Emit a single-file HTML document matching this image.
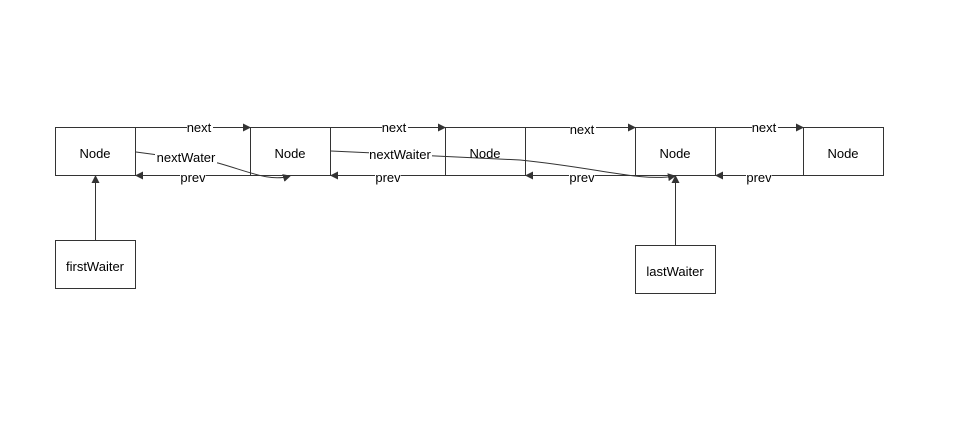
<!DOCTYPE html>
<html><head><style>body{margin:0;background:#fff}</style></head><body>
<svg width="971" height="434" xmlns="http://www.w3.org/2000/svg" font-family="Liberation Sans, sans-serif" font-size="13">
<defs><marker id="a" markerWidth="8" markerHeight="8" refX="7" refY="4" orient="auto" markerUnits="userSpaceOnUse"><path d="M0,0 L8,4 L0,8 z" fill="#333"/></marker></defs>
<g fill="#fff" stroke="#333" stroke-width="1">
<rect x="55.5" y="127.5" width="80" height="48"/>
<rect x="250.5" y="127.5" width="80" height="48"/>
<rect x="445.5" y="127.5" width="80" height="48"/>
<rect x="635.5" y="127.5" width="80" height="48"/>
<rect x="803.5" y="127.5" width="80" height="48"/>
<rect x="55.5" y="240.5" width="80" height="48"/>
<rect x="635.5" y="245.5" width="80" height="48"/>
</g>
<g stroke="#333" fill="none" marker-end="url(#a)">
<line x1="135.5" y1="127.5" x2="250" y2="127.5"/>
<line x1="330.5" y1="127.5" x2="445" y2="127.5"/>
<line x1="525.5" y1="127.5" x2="635" y2="127.5"/>
<line x1="715.5" y1="127.5" x2="803" y2="127.5"/>
<line x1="250.5" y1="175.5" x2="136" y2="175.5"/>
<line x1="445.5" y1="175.5" x2="331" y2="175.5"/>
<line x1="635.5" y1="175.5" x2="526" y2="175.5"/>
<line x1="803.5" y1="175.5" x2="716" y2="175.5"/>
<line x1="95.5" y1="240" x2="95.5" y2="176"/>
<line x1="675.5" y1="245" x2="675.5" y2="176"/>
<path d="M136,152 L218,163 C250,172 270,182 290,176"/>
<path d="M331,151 L520,160 C600,168 640,182 675,176"/>
</g>
<g fill="#000" text-anchor="middle">
<rect x="187" y="122" width="26" height="12" fill="#fff"/><text x="199" y="132">next</text>
<rect x="382" y="122" width="26" height="12" fill="#fff"/><text x="394" y="132">next</text>
<rect x="570" y="124" width="26" height="12" fill="#fff"/><text x="582" y="134">next</text>
<rect x="752" y="122" width="26" height="12" fill="#fff"/><text x="764" y="132">next</text>
<rect x="180" y="171" width="26" height="12" fill="#fff"/><text x="193" y="182">prev</text>
<rect x="375" y="171" width="26" height="12" fill="#fff"/><text x="388" y="182">prev</text>
<rect x="569" y="171" width="26" height="12" fill="#fff"/><text x="582" y="182">prev</text>
<rect x="746" y="171" width="26" height="12" fill="#fff"/><text x="759" y="182">prev</text>
<rect x="155" y="151" width="62" height="13" fill="#fff"/><text x="186" y="162">nextWater</text>
<rect x="369" y="148" width="63" height="13" fill="#fff"/><text x="400" y="159">nextWaiter</text>
<text x="95" y="158">Node</text>
<text x="290" y="158">Node</text>
<text x="485" y="158">Node</text>
<text x="675" y="158">Node</text>
<text x="843" y="158">Node</text>
<text x="95" y="271">firstWaiter</text>
<text x="675" y="276">lastWaiter</text>
</g>
</svg>
</body></html>
